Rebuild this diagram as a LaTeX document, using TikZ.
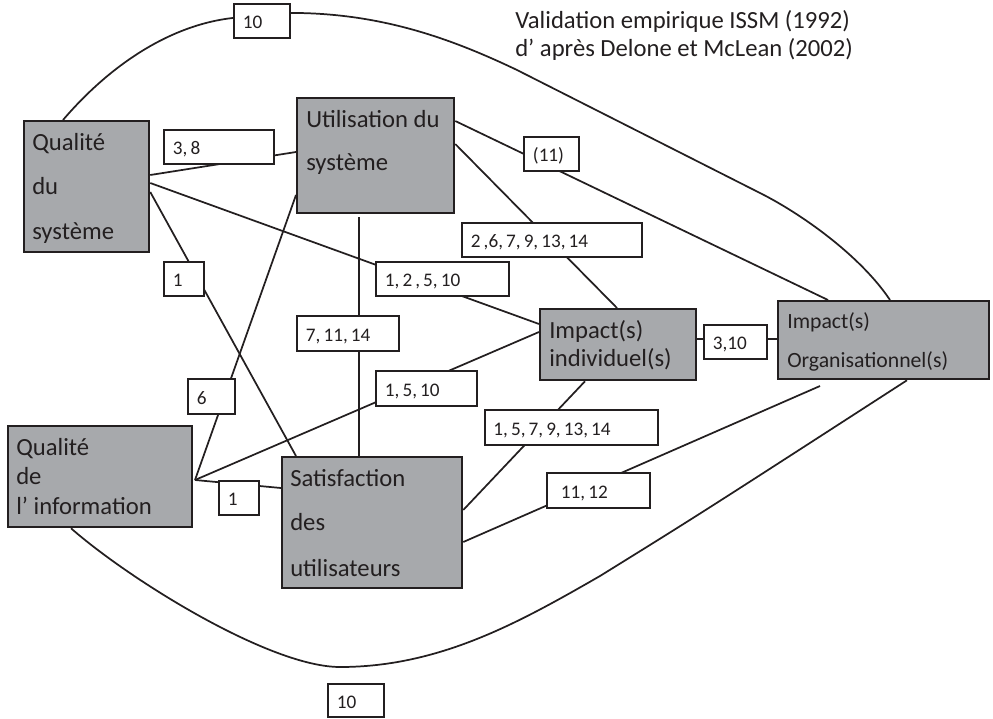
\documentclass[tikz,border=0pt]{standalone}
\usepackage{fontspec}
\setmainfont{Carlito}
\usetikzlibrary{calc}
\definecolor{ink}{HTML}{231F20}
\definecolor{boxgray}{HTML}{A7A9AC}
\tikzset{
  gbox/.style={draw=ink, fill=boxgray, line width=1.7pt, inner sep=0pt, anchor=north west},
  lbox/.style={draw=ink, fill=white, line width=1.4pt, inner ysep=0pt, anchor=north west, align=left,
    font=\fontsize{14.4}{17}\selectfont, text=ink, text height=11.5pt, text depth=0pt},
  link/.style={draw=ink, line width=1.3pt},
  btxt/.style={anchor=base west, inner sep=0pt, text=ink, font=\fontsize{18.5}{22}\selectfont},
  otxt/.style={anchor=base west, inner sep=0pt, text=ink, font=\fontsize{16.3}{20}\selectfont},
}
\newcommand\tightsp{\spaceskip=0.16em\relax}
\newcommand\mkbox[5]{%
  \pgfmathsetmacro\boxw{(#4-#2)*0.75}%
  \pgfmathsetmacro\boxh{(#5-#3)*0.75}%
  \node[gbox, minimum width=\boxw pt, minimum height=\boxh pt] (#1) at (#2,#3) {};}
\newcommand\mklab[7]{%
  \pgfmathsetmacro\labw{(#4-#2-2*#7)*0.75}%
  \pgfmathsetmacro\labh{(#5-#3)*0.75}%
  \pgfmathsetmacro\labp{#7*0.75}%
  \node[lbox, inner xsep=\labp pt, text width=\labw pt, minimum height=\labh pt] (#1) at (#2,#3) {\tightsp #6};}
\begin{document}
\begin{tikzpicture}[x=0.75pt, y=-0.75pt]
\useasboundingbox (0,0) rectangle (993,718);
% main boxes
\mkbox{qds}{23}{120}{148}{251}
\mkbox{us}{296}{97}{453}{212}
\mkbox{ii}{539}{308}{695}{379}
\mkbox{io}{777}{300}{988}{378}
\mkbox{qi}{7}{425}{191}{526}
\mkbox{su}{281}{456}{461}{587}
% box texts
\node[btxt] (qds-a) at (32,150.7) {Qualité};
\node[btxt] (qds-b) at (32,194) {du};
\node[btxt] (qds-c) at (32,239.3) {système};
\node[btxt] (us-a) at (306,127.7) {Utilisation du};
\node[btxt] (us-b) at (306,170.7) {système};
\node[btxt] (ii-a) at (549,338.3) {Impact(s)};
\node[btxt] (ii-b) at (549,366.7) {individuel(s)};
\node[otxt] (io-a) at (787,328) {Impact(s)};
\node[otxt] (io-b) at (787,367) {Organisationnel(s)};
\node[btxt] (qi-a) at (16,455.7) {Qualité};
\node[btxt] (qi-b) at (16,484.3) {de};
\node[btxt] (qi-c) at (16,514.3) {l’ information};
\node[btxt] (su-a) at (290,486.7) {Satisfaction};
\node[btxt] (su-b) at (290,530) {des};
\node[btxt] (su-c) at (290,576) {utilisateurs};
% title
\node[btxt] (title1) at (515,28) {Validation empirique ISSM (1992)};
\node[btxt] (title2) at (515,56) {d’ après Delone et McLean (2002)};
% free points
\coordinate (pj) at (195,480);
\coordinate (fe) at (820,386);
% top label and arcs
\mklab{t10}{233}{3}{289}{37}{10}{9}
\draw[link] ($(qds.north west)+(40,0)$) .. controls (110,65) and (170,25) .. ($(t10.west)+(0,-3)$);
\draw[link] ($(t10.east)+(0,-8)$) .. controls (380,13) and (450,38) .. (517,70)
   -- (760,193) .. controls (800,213) and (860,255) .. ($(io.north west)+(113,0)$);
% straight links
\draw[link] ($(qds.north east)+(0,55)$) -- ($(us.north west)+(0,55)$);
\draw[link] ($(qds.north east)+(0,63)$) -- ($(ii.north west)+(0,16)$);
\draw[link] ($(qds.north east)+(0,72)$) -- ($(su.north west)+(15,0)$);
\draw[link] ($(us.north west)+(0,98)$) -- (pj);
\draw[link] (pj) -- ($(ii.north west)+(0,24)$);
\draw[link] (pj) -- ($(su.north west)+(0,32)$);
\draw[link] ($(us.south west)+(63,3)$) -- ($(su.north west)+(78,0)$);
\draw[link] ($(us.north east)+(0,24)$) -- ($(io.north west)+(51,0)$);
\draw[link] ($(us.north east)+(0,47)$) -- ($(ii.north west)+(78,0)$);
\draw[link] ($(ii.north east)+(0,31)$) -- ($(io.north west)+(0,39)$);
\draw[link] ($(ii.south west)+(46,0)$) -- ($(su.north east)+(0,54)$);
\draw[link] (fe) -- ($(su.north east)+(0,86)$);
% bottom arc
\draw[link] ($(qi.south west)+(64,0)$) .. controls (130,580) and (270,667) .. (340,667)
   .. controls (440,667) and (520,622) .. (600,576)
   .. controls (700,514) .. ($(io.south west)+(130,0)$);
% labels
\mklab{l38}{163}{129}{273}{163}{3, 8}{9}
\mklab{l1a}{163}{261}{203}{295}{1}{9}
\mklab{l1225}{375}{261}{508}{295}{1, 2 , 5, 10}{9}
\mklab{l2679}{461}{222}{641}{256}{2 ,6, 7, 9, 13, 14}{9}
\mklab{l11}{523}{136}{578}{170}{(11)}{9}
\mklab{l310}{703}{324}{766}{358}{3,10}{9}
\mklab{l71114}{296}{315}{398}{350}{7, 11, 14}{9}
\mklab{l6}{187}{378}{234}{413}{6}{9}
\mklab{l1510}{375}{370}{476}{405}{1, 5, 10}{9}
\mklab{l1b}{218}{480}{258}{514}{1}{9}
\mklab{l10b}{327}{683}{383}{716}{10}{9}
\mklab{l157}{484}{409}{657}{444}{1, 5, 7, 9, 13, 14}{8.5}
\mklab{l1112}{546}{472}{649}{507}{11, 12}{14}
\end{tikzpicture}
\end{document}
